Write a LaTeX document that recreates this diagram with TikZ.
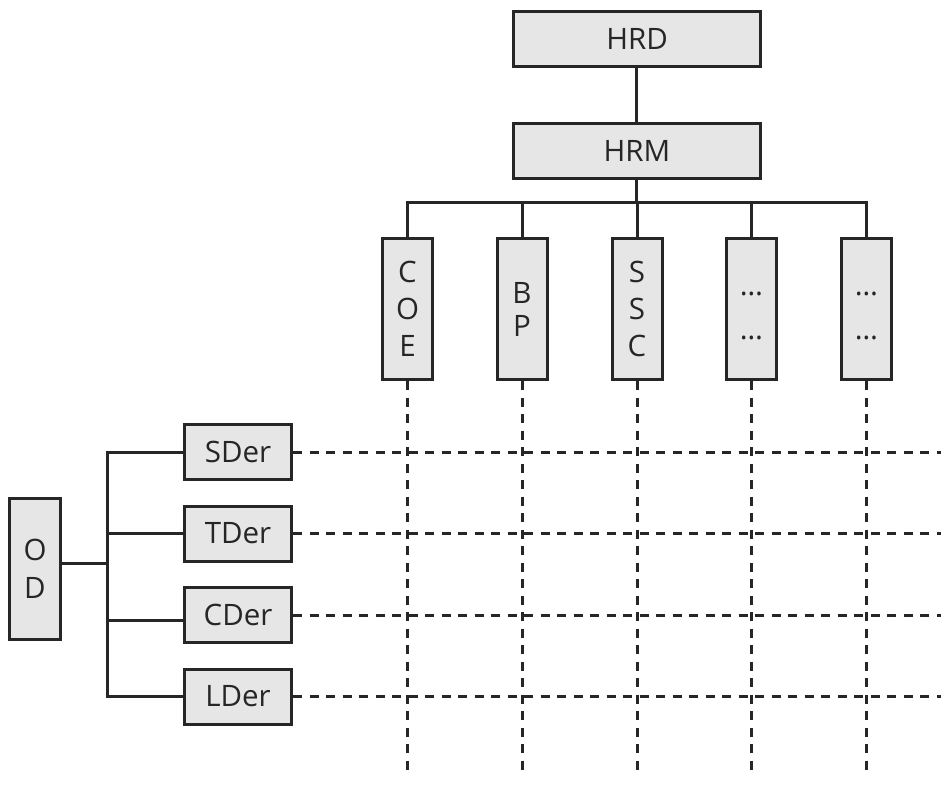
\documentclass[tikz,border=0pt]{standalone}
\usepackage{fontspec}
\setmainfont{Open Sans}
\definecolor{boxfill}{HTML}{E6E6E6}
\definecolor{ink}{HTML}{262626}
\begin{document}
\begin{tikzpicture}[x=1pt,y=-1pt,
  every node/.style={font=\fontsize{29.5}{37}\selectfont, text=ink},
  box/.style={draw=ink, fill=boxfill, line width=3pt, inner sep=0pt, align=center},
  hbox/.style={box, minimum width=247pt, minimum height=55pt},
  vbox/.style={box, minimum width=50pt, minimum height=141pt},
  dbox/.style={box, minimum width=107pt, minimum height=55pt},
  conn/.style={draw=ink, line width=3pt},
  dl/.style={draw=ink, line width=3pt, dash pattern=on 9pt off 7.5pt}]
\useasboundingbox (0,0) rectangle (949,807);

\node[hbox] (HRD) at (637,39) {HRD};
\node[hbox] (HRM) at (637,151) {HRM};

\node[vbox] (COE) at (407.5,309) {C\\O\\E};
\node[vbox, font=\fontsize{29.5}{33}\selectfont] (BP) at (522,309) {B\\P};
\node[vbox] (SSC) at (637,309) {S\\S\\C};
\node[vbox, font=\fontsize{29.5}{44}\selectfont] (D1) at (751.5,309) {\rule{0pt}{18pt}…\\…};
\node[vbox, font=\fontsize{29.5}{44}\selectfont] (D2) at (866.5,309) {\rule{0pt}{18pt}…\\…};

\node[box, minimum width=51pt, minimum height=141pt, font=\fontsize{29.5}{38}\selectfont] (OD) at (35,569) {O\\D};
\node[dbox] (SDer) at (238,452) {SDer};
\node[dbox] (TDer) at (238,533.5) {TDer};
\node[dbox] (CDer) at (238,615) {CDer};
\node[dbox] (LDer) at (238,696.5) {LDer};

% top tree
\coordinate (tb) at (636,202);
\draw[conn] (HRD.south -| tb) -- (HRM.north -| tb);
\draw[conn] (HRM.south -| tb) -- (tb);
\draw[conn] (COE.north) -- (COE.north |- tb) -- (D2.north |- tb) -- (D2.north);
\draw[conn] (BP.north) -- (BP.north |- tb);
\draw[conn] (SSC.north) -- (SSC.north |- tb);
\draw[conn] (D1.north) -- (D1.north |- tb);

% left tree
\coordinate (lb) at (107,563);
\draw[conn] ([yshift=6pt]OD.east) -- (lb);
\draw[conn] (SDer.west) -- (SDer.west -| lb) -- (LDer.west -| lb) -- (LDer.west);
\draw[conn] (TDer.west) -- (TDer.west -| lb);
\draw[conn] ([yshift=-5pt]CDer.west) -- ([yshift=-5pt]CDer.west -| lb);

% dashed grid
\coordinate (vend) at (0,774);
\coordinate (hend) at (941,0);
\foreach \n in {COE,BP,SSC,D1,D2}
  \draw[dl] (\n.south) -- (\n.south |- vend);
\foreach \n in {SDer,TDer,CDer,LDer}
  \draw[dl] (\n.east) -- (\n.east -| hend);
\end{tikzpicture}
\end{document}
